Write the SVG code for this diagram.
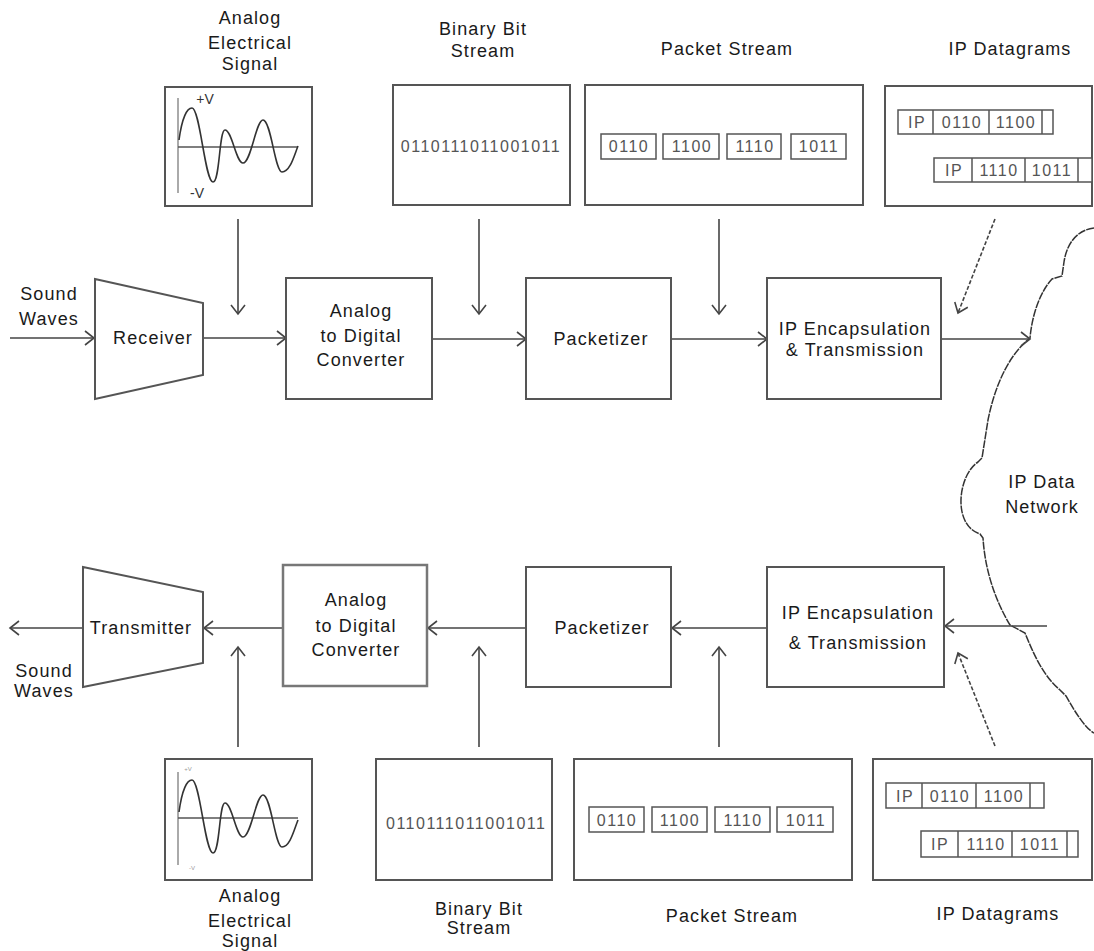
<svg xmlns="http://www.w3.org/2000/svg" width="1094" height="951" viewBox="0 0 1094 951">
<style>
.box{fill:#fff;stroke:#555;stroke-width:2}
.pk{fill:#fff;stroke:#555;stroke-width:1.5}
.ln{stroke:#444;stroke-width:1.6;fill:none}
.dl{stroke:#444;stroke-width:1.6;fill:none;stroke-dasharray:4 2}
.t{font-family:"Liberation Sans",Arial,sans-serif;font-size:18px;fill:#1a1a1a;letter-spacing:1.1px;text-anchor:middle}
.d{font-family:"Liberation Sans",Arial,sans-serif;font-size:16px;fill:#555;letter-spacing:1.5px;text-anchor:middle}
.v{font-family:"Liberation Sans",Arial,sans-serif;font-size:14px;fill:#333;text-anchor:middle}
.ax{stroke:#aaa;stroke-width:2}
.hx{stroke:#555;stroke-width:1.5}
.wave{fill:none;stroke:#333;stroke-width:1.6}
</style>
<defs>
<marker id="ah" viewBox="-10 -8 12 16" refX="0" refY="0" markerWidth="12" markerHeight="16" markerUnits="userSpaceOnUse" orient="auto">
<path d="M-9,-7 L0,0 L-9,7" fill="none" stroke="#444" stroke-width="1.6"/>
</marker>
</defs>

<g id="cloud">
<path d="M1094,228 C1078,230 1067,242 1064,262 L1062,276 L1052,279 C1040,292 1032,315 1030,338 C1012,352 996,380 988,420 L982,458 L978,462 C958,475 952,525 980,534 L983,538 C985,570 995,600 1010,625 L1025,633 C1032,650 1042,675 1060,690 L1066,696 C1075,712 1085,728 1094,733" fill="#fff" stroke="#333" stroke-width="1.5" stroke-dasharray="8 1"/>
<text class="t" x="1042" y="488">IP Data</text>
<text class="t" x="1042" y="513">Network</text>
</g>

<g id="connectors">
<line class="ln" x1="10" y1="338" x2="94" y2="338" marker-end="url(#ah)"/>
<line class="ln" x1="203" y1="338" x2="286" y2="338" marker-end="url(#ah)"/>
<line class="ln" x1="432" y1="339" x2="526" y2="339" marker-end="url(#ah)"/>
<line class="ln" x1="671" y1="339" x2="767" y2="339" marker-end="url(#ah)"/>
<line class="ln" x1="941" y1="339" x2="1030" y2="339" marker-end="url(#ah)"/>
<line class="ln" x1="238" y1="219" x2="238" y2="314" marker-end="url(#ah)"/>
<line class="ln" x1="479" y1="219" x2="479" y2="314" marker-end="url(#ah)"/>
<line class="ln" x1="719" y1="219" x2="719" y2="314" marker-end="url(#ah)"/>
<line class="dl" x1="995" y1="219" x2="958" y2="313" marker-end="url(#ah)"/>

<line class="ln" x1="83" y1="628" x2="10" y2="628" marker-end="url(#ah)"/>
<line class="ln" x1="283" y1="628" x2="204" y2="628" marker-end="url(#ah)"/>
<line class="ln" x1="526" y1="628" x2="428" y2="628" marker-end="url(#ah)"/>
<line class="ln" x1="767" y1="628" x2="672" y2="628" marker-end="url(#ah)"/>
<line class="ln" x1="1047" y1="626" x2="945" y2="626" marker-end="url(#ah)"/>
<line class="ln" x1="238" y1="747" x2="238" y2="647" marker-end="url(#ah)"/>
<line class="ln" x1="479" y1="747" x2="479" y2="647" marker-end="url(#ah)"/>
<line class="ln" x1="719" y1="747" x2="719" y2="647" marker-end="url(#ah)"/>
<line class="dl" x1="995" y1="746" x2="958" y2="653" marker-end="url(#ah)"/>
</g>

<g id="sound-in">
<text class="t" x="49" y="300">Sound</text>
<text class="t" x="49" y="325">Waves</text>
</g>

<g id="receiver">
<polygon class="box" points="95,279 203,303 203,375 95,399"/>
<text class="t" x="153" y="344">Receiver</text>
</g>

<g id="adc-top">
<rect class="box" x="286" y="278" width="146" height="121"/>
<text class="t" x="361" y="317">Analog</text>
<text class="t" x="361" y="342">to Digital</text>
<text class="t" x="361" y="366">Converter</text>
</g>

<g id="packetizer-top">
<rect class="box" x="526" y="278" width="145" height="121"/>
<text class="t" x="601" y="345">Packetizer</text>
</g>

<g id="ipenc-top">
<rect class="box" x="767" y="278" width="174" height="121"/>
<text class="t" x="855" y="335">IP Encapsulation</text>
<text class="t" x="855" y="356">&amp; Transmission</text>
</g>

<g id="signal-top">
<text class="t" x="250" y="24">Analog</text>
<text class="t" x="250" y="49">Electrical</text>
<text class="t" x="250" y="70">Signal</text>
<rect class="box" x="165" y="87" width="147" height="119"/>
<line class="ax" x1="178" y1="98" x2="178" y2="193"/>
<line class="hx" x1="178" y1="147" x2="298" y2="147"/>
<path class="wave" d="M179,140 C182,118 187,108 192,108 C200,108 205,182 213,182 C220,182 219,130 225,130 C232,130 236,163 243,163 C251,163 256,120 263,120 C271,120 275,172 282,172 C290,172 294,156 298,146"/>
<text class="v" x="205" y="104">+V</text>
<text class="v" x="197" y="198">-V</text>
</g>

<g id="binary-top">
<text class="t" x="483" y="35">Binary Bit</text>
<text class="t" x="483" y="57">Stream</text>
<rect class="box" x="393" y="85" width="177" height="120"/>
<text class="d" x="481" y="152">0110111011001011</text>
</g>

<g id="packets-top">
<text class="t" x="727" y="55">Packet Stream</text>
<rect class="box" x="585" y="85" width="278" height="120"/>
<rect class="pk" x="601" y="134" width="55" height="25"/>
<rect class="pk" x="663" y="134" width="56" height="25"/>
<rect class="pk" x="727" y="134" width="54" height="25"/>
<rect class="pk" x="791" y="134" width="55" height="25"/>
<text class="d" x="629" y="152">0110</text>
<text class="d" x="692" y="152">1100</text>
<text class="d" x="755" y="152">1110</text>
<text class="d" x="819" y="152">1011</text>
</g>

<g id="datagrams-top">
<text class="t" x="1010" y="55">IP Datagrams</text>
<rect class="box" x="885" y="86" width="207" height="120"/>
<rect class="pk" x="898" y="110" width="155" height="24"/>
<line class="hx" x1="933" y1="110" x2="933" y2="134"/>
<line class="hx" x1="989" y1="110" x2="989" y2="134"/>
<line class="hx" x1="1042" y1="110" x2="1042" y2="134"/>
<text class="d" x="917" y="128">IP</text>
<text class="d" x="962" y="128">0110</text>
<text class="d" x="1016" y="128">1100</text>
<rect class="pk" x="934" y="158" width="158" height="24"/>
<line class="hx" x1="972" y1="158" x2="972" y2="182"/>
<line class="hx" x1="1025" y1="158" x2="1025" y2="182"/>
<line class="hx" x1="1078" y1="158" x2="1078" y2="182"/>
<text class="d" x="954" y="176">IP</text>
<text class="d" x="999" y="176">1110</text>
<text class="d" x="1052" y="176">1011</text>
</g>

<g id="sound-out">
<text class="t" x="44" y="677">Sound</text>
<text class="t" x="44" y="697">Waves</text>
</g>

<g id="transmitter">
<polygon class="box" points="83,567 203,592 203,663 83,687"/>
<text class="t" x="141" y="634">Transmitter</text>
</g>

<g id="adc-bottom">
<rect class="box" x="283" y="565" width="144" height="121" style="stroke:#777;stroke-width:2.5"/>
<text class="t" x="356" y="606">Analog</text>
<text class="t" x="356" y="632">to Digital</text>
<text class="t" x="356" y="656">Converter</text>
</g>

<g id="packetizer-bottom">
<rect class="box" x="526" y="567" width="145" height="120"/>
<text class="t" x="602" y="634">Packetizer</text>
</g>

<g id="ipenc-bottom">
<rect class="box" x="767" y="567" width="177" height="120"/>
<text class="t" x="858" y="619">IP Encapsulation</text>
<text class="t" x="858" y="649">&amp; Transmission</text>
</g>

<g id="signal-bottom">
<rect class="box" x="165" y="759" width="147" height="121"/>
<line class="ax" x1="178" y1="772" x2="178" y2="865"/>
<line class="hx" x1="178" y1="818" x2="298" y2="818"/>
<path class="wave" d="M179,812 C182,790 187,780 192,780 C200,780 205,853 213,853 C220,853 219,803 225,803 C232,803 236,837 243,837 C251,837 256,795 263,795 C271,795 275,847 282,847 C290,847 294,830 298,820"/>
<text class="v" x="188" y="771" style="font-size:6px;fill:#999">+V</text>
<text class="v" x="192" y="870" style="font-size:6px;fill:#999">-V</text>
<text class="t" x="250" y="902">Analog</text>
<text class="t" x="250" y="927">Electrical</text>
<text class="t" x="250" y="947">Signal</text>
</g>

<g id="binary-bottom">
<rect class="box" x="376" y="759" width="176" height="121"/>
<text class="d" x="386" y="829" style="text-anchor:start">0110111011001011</text>
<text class="t" x="479" y="915">Binary Bit</text>
<text class="t" x="479" y="934">Stream</text>
</g>

<g id="packets-bottom">
<rect class="box" x="574" y="759" width="278" height="121"/>
<rect class="pk" x="589" y="807" width="55" height="25"/>
<rect class="pk" x="652" y="807" width="55" height="25"/>
<rect class="pk" x="715" y="807" width="55" height="25"/>
<rect class="pk" x="777" y="807" width="56" height="25"/>
<text class="d" x="617" y="826">0110</text>
<text class="d" x="680" y="826">1100</text>
<text class="d" x="743" y="826">1110</text>
<text class="d" x="806" y="826">1011</text>
<text class="t" x="732" y="922">Packet Stream</text>
</g>

<g id="datagrams-bottom">
<rect class="box" x="873" y="759" width="219" height="121"/>
<rect class="pk" x="886" y="783" width="158" height="25"/>
<line class="hx" x1="922" y1="783" x2="922" y2="808"/>
<line class="hx" x1="976" y1="783" x2="976" y2="808"/>
<line class="hx" x1="1030" y1="783" x2="1030" y2="808"/>
<text class="d" x="905" y="802">IP</text>
<text class="d" x="950" y="802">0110</text>
<text class="d" x="1004" y="802">1100</text>
<rect class="pk" x="921" y="831" width="157" height="26"/>
<line class="hx" x1="958" y1="831" x2="958" y2="857"/>
<line class="hx" x1="1012" y1="831" x2="1012" y2="857"/>
<line class="hx" x1="1067" y1="831" x2="1067" y2="857"/>
<text class="d" x="940" y="850">IP</text>
<text class="d" x="986" y="850">1110</text>
<text class="d" x="1040" y="850">1011</text>
<text class="t" x="998" y="920">IP Datagrams</text>
</g>
</svg>
